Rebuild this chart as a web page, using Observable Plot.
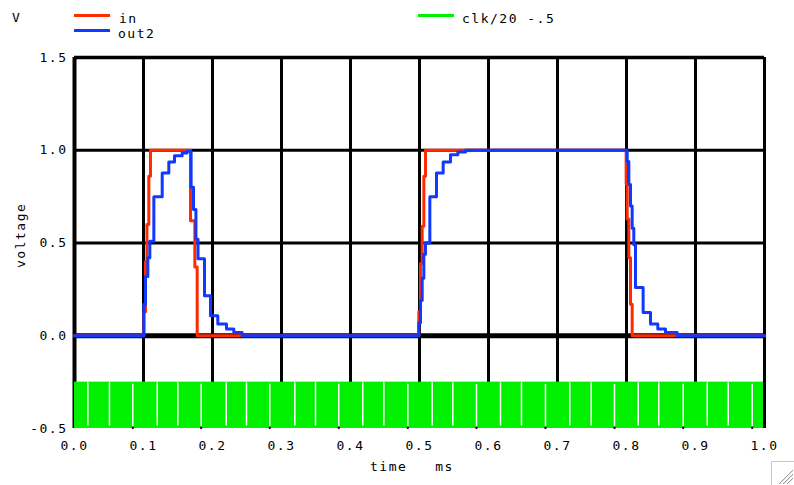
<!DOCTYPE html>
<html><head><meta charset="utf-8">
<script src="https://cdn.jsdelivr.net/npm/d3@7"></script>
<script src="https://cdn.jsdelivr.net/npm/@observablehq/plot@0.6"></script>
<style>
body{margin:0;background:#fff;}
#wrap{position:relative;width:794px;height:485px;overflow:hidden;font-family:"DejaVu Sans Mono",monospace;}
#wrap svg text{letter-spacing:1.5px;}
.t{position:absolute;font-size:13px;white-space:pre;line-height:13px;color:#000;letter-spacing:1.5px;}
.sw{position:absolute;height:3px;width:36px;}
#chart{position:absolute;left:0;top:0;}
</style></head><body><div id="wrap"><div id="chart"></div></div>
<script>
// ---- data ----
const xTicks = [0, 0.1, 0.2, 0.3, 0.4, 0.5, 0.6, 0.7, 0.8, 0.9, 1.0];
const yTicks = [-0.5, 0, 0.5, 1.0, 1.5];

// "in" (red) – step samples
const inTime = [0, 0.1005, 0.1029, 0.1050, 0.1077, 0.1101, 0.1681, 0.1744, 0.1778,
                0.4990, 0.5014, 0.5039, 0.5063, 0.5087, 0.7995, 0.8010, 0.8034, 0.8058, 0.8082, 1.0];
const inVolt = [0, 0.13, 0.40, 0.60, 0.86, 1.0, 0.62, 0.37, 0,
                0.13, 0.39, 0.59, 0.86, 1.0, 0.82, 0.63, 0.42, 0.17, 0, 0];

// "out2" (blue) – step samples
const out2Time = [0, 0.1005, 0.1029, 0.1063, 0.1092, 0.1150, 0.1271, 0.1367, 0.1449, 0.1560,
                  0.1630, 0.1690, 0.1725, 0.1760, 0.1790, 0.1884, 0.1971, 0.2077, 0.2203, 0.2309,
                  0.2430, 0.4990, 0.5014, 0.5039, 0.5063, 0.5087, 0.5150, 0.5246, 0.5343, 0.5449,
                  0.5556, 0.5667, 0.8010, 0.8034, 0.8058, 0.8082, 0.8106, 0.8130, 0.8241, 0.8348,
                  0.8454, 0.8565, 0.8734, 1.0];
const out2Volt = [0, 0.17, 0.32, 0.42, 0.51, 0.75, 0.878, 0.937, 0.97, 0.985,
                  0.995, 0.80, 0.68, 0.52, 0.415, 0.215, 0.108, 0.063, 0.036, 0.018,
                  0, 0.07, 0.19, 0.31, 0.44, 0.50, 0.75, 0.878, 0.937, 0.976,
                  0.99, 1.0, 0.94, 0.815, 0.70, 0.58, 0.49, 0.26, 0.125, 0.063,
                  0.036, 0.018, 0, 0];

// "clk/20 -.5" (green) – fast clock seen as a solid band with aliasing gaps
const clkStart = 0, clkEnd = 1.0;
const clkLow = -0.5, clkHigh = -0.25;
const clkGapTime = [0.0193, 0.0507, 0.1199, 0.1497, 0.2199, 0.2493, 0.3193, 0.3493, 0.4178, 0.4483,
                    0.5184, 0.5483, 0.6174, 0.6478, 0.7178, 0.7488, 0.8170, 0.8468, 0.9170, 0.9474];
const clkGapMarkedTime = [0.0845, 0.1836, 0.2830, 0.3830, 0.4830, 0.5826, 0.6826, 0.7826, 0.8822, 0.9822];

// ---- build tables ----
const inData = inTime.map((t, i) => ({t, v: inVolt[i]}));
const out2Data = out2Time.map((t, i) => ({t, v: out2Volt[i]}));
const band = [{t0: clkStart, t1: clkEnd, lo: clkLow, hi: clkHigh}];

const RED = "#ff2a00", BLUE = "#1038ff", GREEN = "#00f000";

const chart = Plot.plot({
  width: 794, height: 485,
  marginTop: 57, marginBottom: 57, marginLeft: 74, marginRight: 30,
  x: {type: "linear", domain: [0, 1], label: null},
  y: {type: "linear", domain: [-0.5, 1.5], label: null},
  style: {fontFamily: "DejaVu Sans Mono, monospace", fontSize: "13px", background: "white", color: "black"},
  marks: [
    // grid
    Plot.ruleX(xTicks.filter(d => d > 0 && d < 1), {stroke: "black", strokeWidth: 3}),
    Plot.ruleY(yTicks.filter(d => d > 0 && d < 1.5), {stroke: "black", strokeWidth: 3}),
    Plot.ruleY([1.5], {stroke: "black", strokeWidth: 3.5}),
    Plot.ruleY([0], {stroke: "black", strokeWidth: 5}),
    Plot.ruleX([0], {stroke: "black", strokeWidth: 4}),
    // clock band
    Plot.rect(band, {x1: "t0", x2: "t1", y1: "lo", y2: "hi", fill: GREEN}),
    Plot.ruleX(clkGapTime, {y1: -0.253, y2: -0.487, stroke: "white", strokeWidth: 1.5}),
    Plot.ruleX(clkGapMarkedTime, {y1: -0.262, y2: -0.495, stroke: "white", strokeWidth: 1.5}),
    Plot.ruleX(clkGapMarkedTime, {y1: -0.492, y2: -0.505, stroke: "black", strokeWidth: 2}),
    Plot.ruleX([1.0], {stroke: "black", strokeWidth: 3}),
    // signals
    Plot.line(inData, {x: "t", y: "v", curve: "step-after", stroke: RED, strokeWidth: 3}),
    Plot.line(out2Data, {x: "t", y: "v", curve: "step-after", stroke: BLUE, strokeWidth: 3}),
    // axes
    Plot.axisX(xTicks, {anchor: "bottom", tickSize: 0, tickPadding: 12, tickFormat: d => d.toFixed(1), label: null}),
    Plot.axisY(yTicks, {anchor: "left", tickSize: 0, tickPadding: 7, tickFormat: d => d.toFixed(1), label: null})
  ]
});
document.getElementById("chart").appendChild(chart);

// ---- legend and labels ----
const wrap = document.getElementById("wrap");
function txt(s, x, y, extra) {
  const d = document.createElement("div");
  d.className = "t"; d.textContent = s;
  d.style.left = x + "px"; d.style.top = y + "px";
  if (extra) Object.assign(d.style, extra);
  wrap.appendChild(d);
}
function sw(color, x, y) {
  const d = document.createElement("div");
  d.className = "sw"; d.style.background = color;
  d.style.left = x + "px"; d.style.top = y + "px";
  wrap.appendChild(d);
}
txt("V", 12, 11);
sw(RED, 74, 14);   txt("in", 119, 12);
sw(BLUE, 74, 29);  txt("out2", 118, 27);
sw(GREEN, 418, 14); txt("clk/20 -.5", 462, 12);
txt("time   ms", 370, 460);
txt("voltage", -10, 232, {transform: "rotate(-90deg)", transformOrigin: "30px 6px", width: "60px", textAlign: "center"});

// window resize grip (bottom-right)
const ns = "http://www.w3.org/2000/svg";
const g = document.createElementNS(ns, "svg");
g.setAttribute("width", 23); g.setAttribute("height", 24);
g.style.position = "absolute"; g.style.left = "771px"; g.style.top = "461px";
g.innerHTML = '<path d="M0.5 24V0.5H23" fill="none" stroke="#c8c8c8"/>' +
  '<path d="M8 23L22 9M12 23L22 13M16 23L22 17" stroke="#9a9a9a" stroke-width="1"/>' +
  '<path d="M9 23L22 10M13 23L22 14M17 23L22 18" stroke="#e8e8e8" stroke-width="1"/>';
wrap.appendChild(g);
</script>
</body></html>
